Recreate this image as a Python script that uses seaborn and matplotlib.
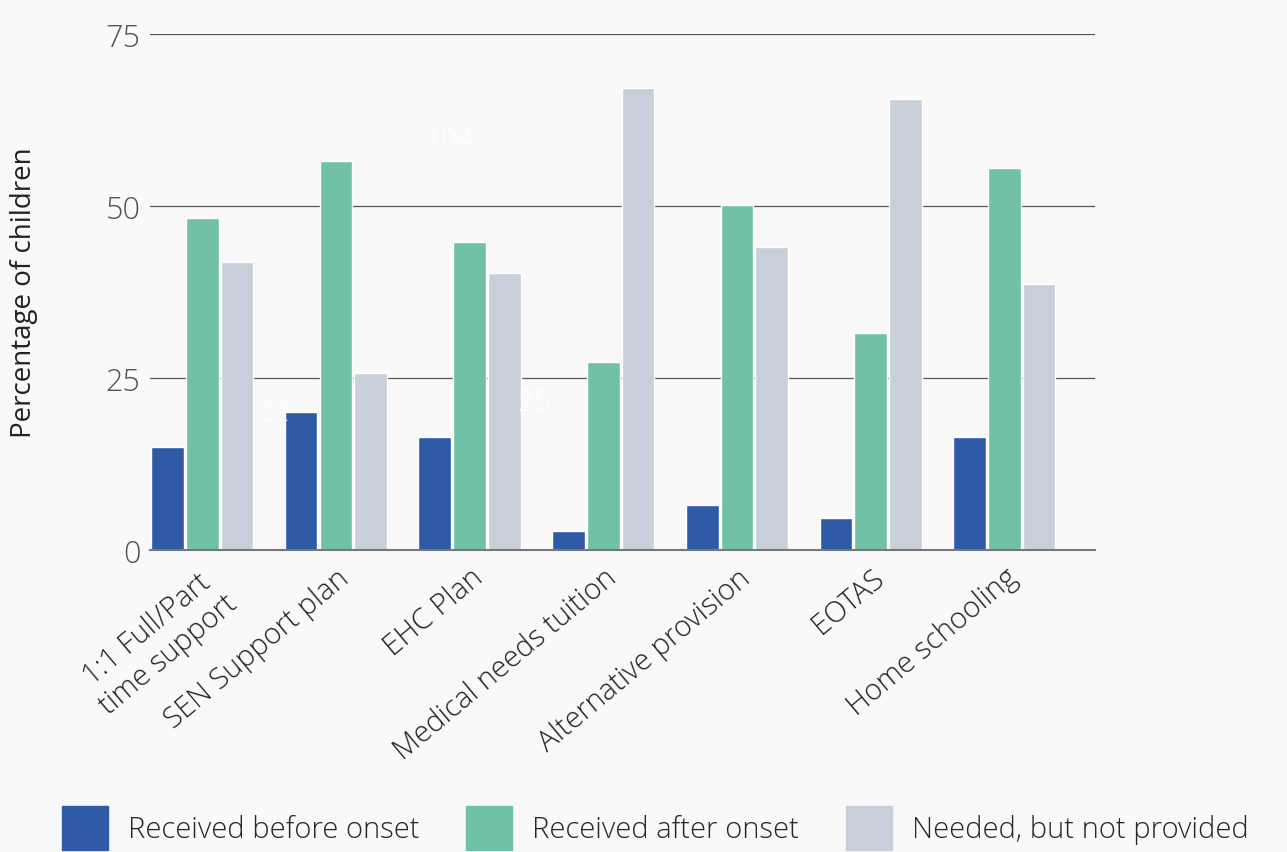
import pandas as pd
import matplotlib.pyplot as plt
import seaborn as sns

# Data (percent of children)
categories = ["1:1 Full/Part\ntime support", "SEN Support plan", "EHC Plan",
              "Medical needs tuition", "Alternative provision", "EOTAS", "Home schooling"]
series = ["Received before onset", "Received after onset", "Needed, but not provided"]
before_onset = [15, 20, 16.5, 2.7, 6.6, 4.7, 16.5]
after_onset = [48.3, 56.5, 44.8, 27.3, 50.1, 31.5, 55.5]
not_provided = [41.8, 25.8, 40.3, 67.2, 44.1, 65.6, 38.6]
colors = ["#2f5aa6", "#70c1a5", "#c8cfdb"]

# faint (white) count labels left on the original
note_text = ["104", "22", "25"]
note_x = [1.85, 0.53, 2.48]
note_y = [59.5, 20, 21.5]

df = pd.DataFrame({
    "category": categories * 3,
    "series": [s for s in series for _ in categories],
    "value": before_onset + after_onset + not_provided,
})

sns.set_style("white")
plt.rcParams["font.family"] = ["Open Sans", "DejaVu Sans"]
plt.rcParams["font.weight"] = "light"

bg = "#f9f9f9"
fig = plt.figure(figsize=(12.87, 8.53), dpi=100, facecolor=bg)
ax = fig.add_axes([0.1166, 0.354, 0.7344, 0.605], facecolor=bg)

sns.barplot(data=df, x="category", y="value", hue="series", palette=colors,
            width=0.78, gap=0.06, ax=ax, legend=False, saturation=1)

ax.set_ylim(0, 75)
ax.set_xlim(-0.39, 6.68)
ax.set_yticks([0, 25, 50, 75])
ax.yaxis.grid(True, color="#555555", linewidth=0.9)
ax.set_axisbelow(True)
for s in ["top", "right", "left"]:
    ax.spines[s].set_visible(False)
ax.spines["bottom"].set_color("#777777")
ax.spines["bottom"].set_linewidth(1.5)
ax.tick_params(axis="y", length=0, pad=7, labelsize=22, labelcolor="#555555")
ax.tick_params(axis="x", length=0, pad=9, labelsize=21, labelcolor="#222222")
plt.setp(ax.get_xticklabels(), rotation=40, ha="right", rotation_mode="anchor",
         multialignment="center")
ax.set_xlabel("")
ax.set_ylabel("Percentage of children", fontsize=20, color="#222222")
ax.yaxis.set_label_coords(-0.119, 0.5)

for t, x, y in zip(note_text, note_x, note_y):
    ax.text(x, y, t, color="white", fontsize=21, ha="center", va="center")

handles = [plt.Rectangle((0, 0), 1, 1, color=c) for c in colors]
fig.legend(handles, series, loc="lower left", bbox_to_anchor=(0.028, -0.028),
           ncol=3, frameon=False, fontsize=21, handlelength=1.58, handleheight=1.9,
           columnspacing=1.6, handletextpad=0.68)

fig.savefig("out.png", dpi=100, facecolor=bg)
